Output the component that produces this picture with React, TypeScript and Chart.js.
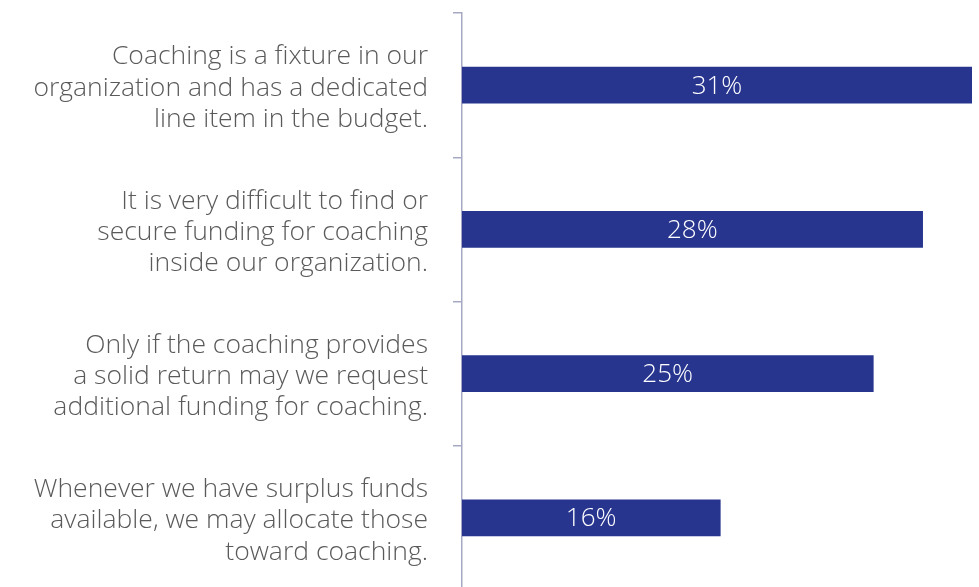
import React, { useEffect, useRef } from "react";
import { Chart, registerables } from "chart.js";

Chart.register(...registerables);

const categories: string[][] = [
  ["Coaching is a fixture in our", "organization and has a dedicated", "line item in the budget."],
  ["It is very difficult to find or", "secure funding for coaching", "inside our organization."],
  ["Only if the coaching provides", "a solid return may we request", "additional funding for coaching."],
  ["Whenever we have surplus funds", "available, we may allocate those", "toward coaching."],
];
const values: number[] = [31, 28, 25, 15.7];
const valueLabels: string[] = ["31%", "28%", "25%", "16%"];

const BAR_COLOR = "#27358f";
const AXIS_COLOR = "#a7a9c4";
const FONT = "'Open Sans', 'Noto Sans', sans-serif";

const barLabelPlugin = {
  id: "barLabels",
  afterDatasetsDraw(chart: any) {
    const ctx = chart.ctx;
    const meta = chart.getDatasetMeta(0);
    ctx.save();
    ctx.fillStyle = "#ffffff";
    ctx.font = `300 26px ${FONT}`;
    ctx.textAlign = "center";
    ctx.textBaseline = "middle";
    meta.data.forEach((bar: any, i: number) => {
      const cx = (bar.x + bar.base) / 2;
      ctx.fillText(valueLabels[i], cx, bar.y + 1);
    });
    ctx.restore();
  },
};

export default function App() {
  const ref = useRef<HTMLCanvasElement | null>(null);
  useEffect(() => {
    if (!ref.current) return;
    const chart = new Chart(ref.current, {
      type: "bar",
      data: {
        labels: categories,
        datasets: [
          {
            data: values,
            backgroundColor: BAR_COLOR,
            barThickness: 36,
          },
        ],
      },
      options: {
        indexAxis: "y",
        animation: false,
        responsive: false,
        maintainAspectRatio: false,
        layout: { padding: { top: 13, bottom: 0, left: 0, right: 7 } },
        plugins: { legend: { display: false }, tooltip: { enabled: false } },
        scales: {
          x: {
            display: false,
            min: 0,
            max: 31,
          },
          y: {
            afterFit(scale: any) {
              scale.width = 462;
              scale.paddingTop = 0;
              scale.paddingBottom = 0;
            },
            border: { display: true, color: AXIS_COLOR, width: 1.5 },
            grid: {
              display: true,
              drawOnChartArea: false,
              drawTicks: true,
              tickLength: 9,
              offset: true,
              color: AXIS_COLOR,
              lineWidth: 1.5,
            },
            ticks: {
              padding: 25,
              labelOffset: 3,
              color: "#5a5a5a",
              font: { family: FONT, size: 26.5, weight: "300" as any, lineHeight: 1.18 },
            },
          },
        },
      },
      plugins: [barLabelPlugin],
    });
    return () => chart.destroy();
  }, []);
  return (
    <div style={{ position: "absolute", left: 0, top: 0, width: 979, height: 587, overflow: "hidden" }}>
      <canvas ref={ref} width={979} height={590} style={{ display: "block" }} />
    </div>
  );
}
